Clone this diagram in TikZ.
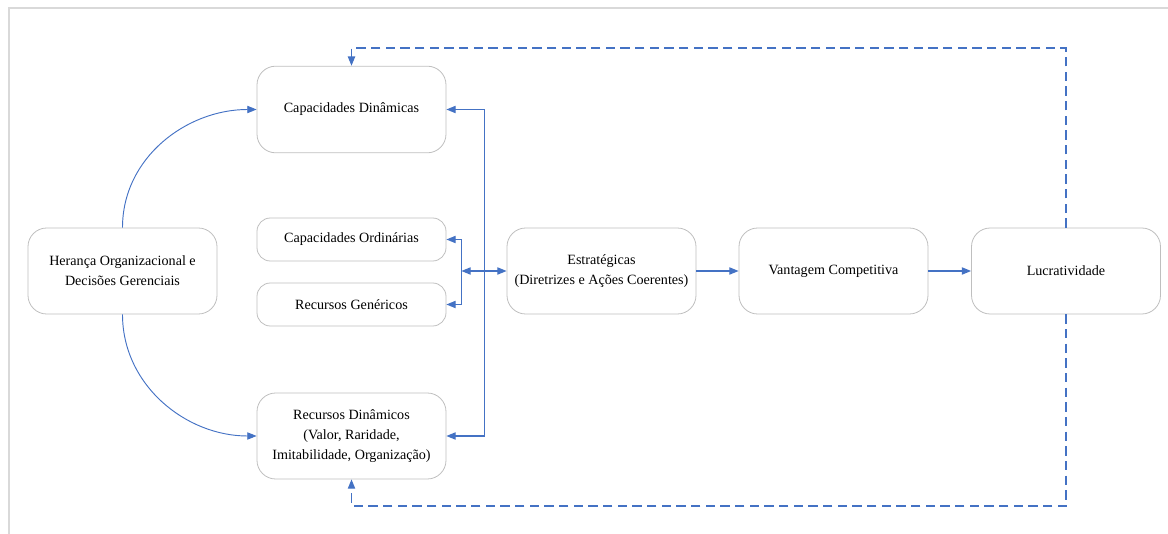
\documentclass[tikz,border=0pt]{standalone}
\usepackage{fontspec}
\setmainfont{Liberation Serif}
\usetikzlibrary{arrows.meta}
\definecolor{linkblue}{HTML}{4472C4}
\definecolor{boxgray}{HTML}{BFBFBF}
\definecolor{framegray}{HTML}{D9D9D9}
\tikzset{>={Triangle[length=7pt,width=5.5pt]}}

\begin{document}
\begin{tikzpicture}[x=0.75pt,y=-0.75pt,
		bloco/.style={draw=boxgray, line width=0.6pt, rounded corners=14pt, fill=white,
			align=center, minimum width=141.75pt, minimum height=64.5pt, inner sep=2pt,
			font=\fontsize{10.6}{15}\selectfont},
		baixo/.style={bloco, minimum height=32.25pt, rounded corners=10pt},
		liga/.style={draw=linkblue, line width=0.9pt},
		retorno/.style={liga, dash pattern=on 7pt off 4pt}]
		\useasboundingbox (0,0) rectangle (1168,534);

		% moldura
		\draw[framegray, line width=0.8pt] (9,534) -- (9,8) -- (1168,8);

		% os blocos
		\node[bloco] (heranca) at (122.5,271) {Herança Organizacional e\\Decisões Gerenciais};
		\node[bloco, minimum height=65pt] (capdin) at (351.5,109.5) {Capacidades Dinâmicas};
		\node[baixo] (capord) at (351.5,239.5) {Capacidades Ordinárias};
		\node[baixo] (recgen) at (351.5,304.5) {Recursos Genéricos};
		\node[bloco] (recdin) at (351.5,436) {Recursos Dinâmicos\\(Valor, Raridade,\\Imitabilidade, Organização)};
		\node[bloco] (estrat) at (601.5,271) {Estratégicas\\(Diretrizes e Ações Coerentes)};
		\node[bloco] (vantagem) at (833.5,271) {Vantagem Competitiva};
		\node[bloco] (lucro) at (1066,271) {Lucratividade};

		% pontos auxiliares
		\path (capdin.east) +(38,0) coordinate (bsup);
		\path (recdin.east) +(38,0) coordinate (binf);
		\path (capord.east) +(15,0) coordinate (csup);
		\path (recgen.east) +(15,0) coordinate (cinf);
		\coordinate (topo) at (capdin.north |- 0,48);
		\coordinate (fundo) at (recdin.south |- 0,506);

		% a herança alimenta os dois lados dinâmicos
		\draw[liga, line width=0.7pt, ->] (heranca.north) to[out=90, in=180] (capdin.west);
		\draw[liga, line width=0.7pt, ->] (heranca.south) to[out=-90, in=180] (recdin.west);

		% barramentos
		\draw[liga, <->] (capdin.east) -- (bsup) -- (binf) -- (recdin.east);
		\draw[liga, <->] (capord.east) -- (csup) -- (cinf) -- (recgen.east);
		\draw[liga, <->] (csup |- estrat.west) -- (estrat.west);

		% cadeia principal
		\draw[liga, ->] (estrat) -- (vantagem);
		\draw[liga, ->] (vantagem) -- (lucro);

		% realimentação
		\draw[retorno, ->] (lucro.north) |- (topo) -- (capdin.north);
		\draw[retorno, ->] (lucro.south) |- (fundo) -- (recdin.south);
	\end{tikzpicture}
\end{document}
